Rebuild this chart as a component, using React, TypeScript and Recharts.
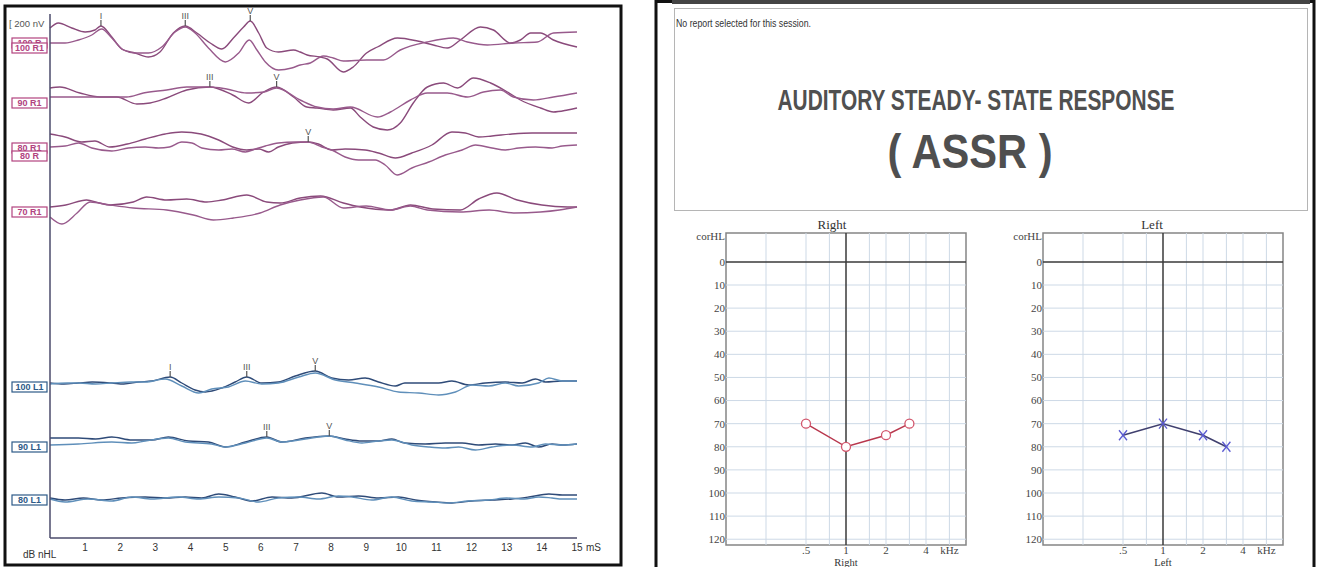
import React from 'react';
import {
  ComposedChart,
  LineChart,
  Line,
  Scatter,
  XAxis,
  YAxis,
  ReferenceLine,
  ReferenceArea,
} from 'recharts';

// ABR waveforms: [latency ms, amplitude] pairs, amplitude relative to the trace baseline (up = positive)
type Pt = [number, number];

const r100a: Pt[] = [[0, 15], [0.24, 20], [0.62, 15], [1.0, 11], [1.28, 13], [1.45, 17], [1.76, 6], [2.04, -6], [2.42, -10], [2.8, -14], [3.13, -9], [3.51, 10], [3.85, 17], [4.18, 10], [4.56, 0], [4.89, -6], [5.22, 5], [5.51, 16], [5.7, 22], [5.94, 10], [6.17, -5], [6.5, -9], [6.93, -7], [7.12, -9], [7.32, -12], [7.69, -14], [7.89, -16], [8.35, -29], [8.63, -24], [9.01, -10], [9.32, -4], [9.89, 5], [10.46, 2], [10.91, -2], [11.31, -5], [11.68, 3], [12.25, 16], [12.62, 13], [13.11, 0], [13.39, 3], [13.68, 10], [13.96, 10], [14.33, 3], [15, -4]];
const r100b: Pt[] = [[0, 0], [0.43, 0], [0.81, 3], [1.19, 8], [1.47, 14], [1.76, 5], [2.09, -7], [2.42, -10], [2.8, -10], [3.18, -4], [3.56, 11], [3.85, 16], [4.13, 10], [4.51, -5], [4.99, -19], [5.37, -10], [5.67, 3], [5.89, -7], [6.13, -19], [6.5, -27], [6.88, -25], [7.12, -22], [7.41, -20], [7.78, -13], [8.06, -15], [8.35, -18], [9.01, -17], [9.49, -17], [9.97, -7], [10.74, 1], [11.48, 5], [11.88, 1], [12.45, -2], [13.19, 0], [13.87, 1], [14.33, 10], [15, 11]];
const r90a: Pt[] = [[0, 9], [0.28, 10], [0.85, 4], [1.42, 0], [1.9, 0], [2.47, -7], [2.85, -6], [3.32, -1], [3.89, 7], [4.55, 10], [5.2, 2], [5.65, -6], [6.08, 5], [6.45, 10], [6.93, 0], [7.31, -10], [7.6, -11], [8.06, -13], [8.55, -11], [8.83, -20], [9.2, -30], [9.6, -33], [9.97, -26], [10.34, -6], [10.74, 10], [11.2, 14], [11.6, 9], [12.05, 19], [12.54, 14], [13.02, 5], [13.39, -3], [13.96, -11], [14.33, -15], [14.73, -13], [15, -11]];
const r90b: Pt[] = [[0, 0], [0.7, 0], [1.42, 0], [2.18, 0], [2.66, 4], [3.32, 7], [3.89, 10], [4.55, 10], [5.03, 8], [5.6, 4], [6.08, 5], [6.45, 9], [7.12, -3], [7.6, -10], [8.06, -12], [8.55, -10], [9.32, -20], [9.69, -15], [10.26, -3], [10.74, 4], [11.31, 4], [11.88, 0], [12.34, 5], [12.82, 7], [13.19, 0], [13.76, -3], [14.33, 0], [15, 4]];
const r80a: Pt[] = [[0, 14], [0.43, 11], [0.9, 6], [1.28, 7], [1.7, 1], [2.2, 4], [2.71, 9], [3.28, 14], [3.75, 16], [4.3, 14], [4.8, 8], [5.2, 1], [5.6, -2], [5.95, -1], [6.22, -4], [6.5, 1], [6.9, 5], [7.35, 6], [7.64, 4], [8.02, -2], [8.4, -1], [8.97, -2], [9.35, -5], [9.83, -10], [10.3, -5], [10.87, 3], [11.44, 16], [11.82, 15], [12.2, 11], [12.58, 12], [13.15, 14], [13.72, 15], [14.58, 15], [15, 15]];
const r80b: Pt[] = [[0, 1], [0.43, 2], [0.81, 5], [1.19, 0], [1.76, -3], [2.23, 0], [2.71, 1], [3.09, 0], [3.4, 1], [3.75, 6], [4.04, 5], [4.32, 0], [4.8, -2], [5.18, -1], [5.56, -4], [5.84, -1], [6.13, 2], [6.5, 5], [6.98, 6], [7.35, 6], [7.74, 1], [8.02, -2], [8.4, -9], [8.78, -12], [9.26, -12], [9.54, -17], [9.88, -27], [10.3, -20], [10.78, -14], [11.25, -7], [11.73, -2], [12.11, 3], [12.58, 0], [12.96, -2], [13.34, 0], [13.82, 1], [14.29, 0], [14.58, 2], [15, 3]];
const r70a: Pt[] = [[0, 0], [0.45, 2], [1.04, 7], [1.4, 4], [1.71, 2], [2.37, 5], [2.75, 10], [3.32, 7], [3.89, 8], [4.46, 5], [4.9, 7], [5.6, 12], [6.17, 5], [6.55, 4], [7.12, 9], [7.7, 11], [8.35, 4], [8.83, 0], [9.69, -3], [10.26, 2], [10.9, -2], [11.68, -3], [12.2, 8], [12.72, 14], [13.3, 7], [14.0, 2], [14.73, 0], [15, 0]];
const r70b: Pt[] = [[0, -10], [0.34, -17], [0.77, -6], [1.14, 5], [1.71, 2], [2.37, -1], [3.32, -3], [4.08, -8], [4.65, -13], [5.22, -11], [5.98, -6], [6.55, 2], [7.12, 7], [7.78, 10], [8.35, -1], [9.0, 1], [9.69, -3], [10.26, 1], [10.74, -3], [11.68, -5], [12.5, -3], [13.2, -6], [13.96, -5], [14.5, -3], [15, 0]];
const l100a: Pt[] = [[0, 0], [0.4, -1], [0.81, 0], [1.2, 1], [1.76, 0], [2.1, -1], [2.52, 1], [2.9, 2], [3.42, 6], [3.75, 0], [4.13, -7], [4.42, -9], [4.89, -5], [5.27, 1], [5.6, 6], [6.03, 0], [6.5, 1], [6.98, 7], [7.55, 12], [8.02, 5], [8.5, 3], [8.97, 5], [9.35, 1], [9.83, -3], [10.1, 0], [10.59, 0], [11.06, 0], [11.44, 2], [11.92, -2], [12.39, 0], [12.96, 1], [13.44, 0], [13.82, 4], [14.1, 1], [14.58, 2], [15, 2]];
const l100b: Pt[] = [[0, -1], [0.5, 0], [0.81, 0], [1.3, -1], [1.76, 0], [2.3, 1], [2.71, 1], [3.28, 4], [3.75, -3], [4.23, -10], [4.6, -6], [5.08, -4], [5.56, 2], [6.03, -1], [6.5, 0], [7.08, 6], [7.55, 10], [8.12, 3], [8.69, 0], [9.35, -4], [9.92, -9], [10.49, -10], [11.06, -12], [11.54, -9], [12.01, -2], [12.49, -3], [12.96, 0], [13.34, -3], [13.91, 0], [14.2, 5], [14.58, 2], [15, 2]];
const l90a: Pt[] = [[0, 5], [0.81, 5], [1.3, 4], [1.76, 6], [2.33, 3], [2.9, 3], [3.37, 6], [3.94, 2], [4.51, 1], [4.99, -4], [5.56, 1], [6.17, 6], [6.6, 1], [7.27, 5], [7.95, 7], [8.4, 4], [8.88, 2], [9.35, 2], [9.73, 4], [10.1, 0], [10.68, -1], [11.25, 0], [11.73, 0], [12.2, -2], [12.68, -1], [13.15, -2], [13.53, 0], [13.91, -4], [14.29, -1], [14.58, -2], [15, -1]];
const l90b: Pt[] = [[0, -2], [0.81, -1], [1.76, 1], [2.33, 0], [2.71, 2], [3.37, 5], [3.85, 1], [4.6, -1], [4.99, -4], [5.56, 0], [6.17, 5], [6.6, 1], [7.27, 4], [7.95, 7], [8.4, 3], [8.88, 0], [9.35, 2], [9.73, 3], [10.3, -2], [10.78, -4], [11.25, -5], [11.63, -4], [12.11, -7], [12.58, -4], [13.15, -2], [13.72, -4], [14.1, -1], [14.58, -2], [15, -1]];
const l80a: Pt[] = [[0, 1], [0.43, -1], [0.95, 1], [1.47, -1], [2.04, 1], [2.71, 2], [3.28, 1], [3.85, 2], [4.32, 1], [4.8, 5], [5.27, 2], [5.75, -2], [6.32, 2], [6.88, 1], [7.74, 6], [8.21, 2], [8.78, 3], [9.35, 1], [9.92, 2], [10.4, -1], [10.97, -3], [11.44, -4], [12.01, -2], [12.58, -1], [13.15, 0], [13.63, 2], [14.2, 5], [14.58, 4], [15, 4]];
const l80b: Pt[] = [[0, 0], [0.43, -3], [1.09, 0], [1.76, -2], [2.33, 2], [2.9, 0], [3.66, 2], [4.23, 0], [4.8, 2], [5.37, 1], [5.94, -3], [6.5, 1], [7.08, 2], [7.64, 0], [8.21, 3], [8.6, 2], [9.16, -1], [9.73, 2], [10.3, -2], [10.87, -3], [11.35, -4], [11.9, -2], [12.5, -1], [13.0, 1], [13.5, 0], [13.91, 2], [14.29, 1], [14.58, 0], [15, 0]];

// wave peaks marked on the traces
const PEAKS = [
  { level: '100R', label: 'I', ms: 1.45, amp: 17 },
  { level: '100R', label: 'III', ms: 3.85, amp: 17 },
  { level: '100R', label: 'V', ms: 5.7, amp: 22 },
  { level: '90R', label: 'III', ms: 4.55, amp: 10 },
  { level: '90R', label: 'V', ms: 6.45, amp: 10 },
  { level: '80R', label: 'V', ms: 7.35, amp: 6 },
  { level: '100L', label: 'I', ms: 3.42, amp: 6 },
  { level: '100L', label: 'III', ms: 5.6, amp: 6 },
  { level: '100L', label: 'V', ms: 7.55, amp: 12 },
  { level: '90L', label: 'III', ms: 6.17, amp: 6 },
  { level: '90L', label: 'V', ms: 7.95, amp: 7 },
];

const MS_TICKS = [1, 2, 3, 4, 5, 6, 7, 8, 9, 10, 11, 12, 13, 14, 15];

// ASSR thresholds
const FREQS = [0.5, 1, 2, 3];
const RIGHT_DB = [70, 80, 75, 70];
const LEFT_DB = [75, 70, 75, 80];
const DB_TICKS = [0, 10, 20, 30, 40, 50, 60, 70, 80, 90, 100, 110, 120];
const KHZ_TICKS = [0.5, 1, 2, 4, 6];
const GRID_FREQS = [0.25, 0.5, 0.75, 1.5, 2, 3, 4, 6];

// stacking of the ABR traces (display units from the bottom of the plot)
const LEVELS = [
  { key: '100R', ear: 'R', offset: 495, boxes: [{ text: '100 R', dy: -5 }, { text: '100 R1', dy: 0 }], traces: [r100a, r100b] },
  { key: '90R', ear: 'R', offset: 441, boxes: [{ text: '90 R1', dy: 1 }], traces: [r90a, r90b] },
  { key: '80R', ear: 'R', offset: 390, boxes: [{ text: '80 R1', dy: -5 }, { text: '80 R', dy: 3 }], traces: [r80a, r80b] },
  { key: '70R', ear: 'R', offset: 331, boxes: [{ text: '70 R1', dy: 0 }], traces: [r70a, r70b] },
  { key: '100L', ear: 'L', offset: 155, boxes: [{ text: '100 L1', dy: -1 }], traces: [l100a, l100b] },
  { key: '90L', ear: 'L', offset: 95, boxes: [{ text: '90 L1', dy: -1 }], traces: [l90a, l90b] },
  { key: '80L', ear: 'L', offset: 39, boxes: [{ text: '80 L1', dy: -4 }], traces: [l80a, l80b] },
];

const SANS = 'Liberation Sans, Arial, sans-serif';
const NARROW = 'Liberation Sans Narrow, Arial Narrow, Liberation Sans, sans-serif';
const SERIF = 'Liberation Serif, Times New Roman, serif';
const RED_TRACE = ['#8a4a7b', '#985a8c'];
const BLUE_TRACE = ['#2f4b78', '#5f8fba'];

const LevelTick = ({ x, y, payload }: any) => {
  const lvl = LEVELS.find((l) => l.offset === payload.value);
  if (!lvl) return null;
  const col = lvl.ear === 'R' ? '#b2437f' : '#2d5a88';
  return (
    <g>
      {lvl.boxes.map((b) => (
        <g key={b.text}>
          <rect x={x - 38} y={y + b.dy} width={35} height={10} fill="#fff" stroke={col} strokeWidth={1.2} />
          <text x={x - 20.5} y={y + b.dy + 8.3} textAnchor="middle" fontSize={9} fontWeight="bold" fill={col} fontFamily={SANS}>
            {b.text}
          </text>
        </g>
      ))}
    </g>
  );
};

const MsTick = ({ x, y, payload }: any) => (
  <g>
    <text x={x} y={y + 13} textAnchor="middle" fontSize={10} fill="#333" fontFamily={SANS}>
      {payload.value}
    </text>
    {payload.value === 15 && (
      <text x={x + 9} y={y + 13} fontSize={10} fill="#333" fontFamily={SANS}>
        mS
      </text>
    )}
  </g>
);

const PeakMark = (p: any) => {
  const { cx, cy, payload } = p;
  return (
    <g>
      <line x1={cx} x2={cx} y1={cy} y2={cy - 6} stroke="#555" strokeWidth={1.2} />
      <text x={cx} y={cy - 7} textAnchor="middle" fontSize={9} fill="#555" fontFamily={SANS}>
        {payload.label}
      </text>
    </g>
  );
};

function AbrChart() {
  const offsets: Record<string, number> = {};
  LEVELS.forEach((l) => (offsets[l.key] = l.offset));
  const peakData = PEAKS.map((p) => ({ x: p.ms, y: offsets[p.level] + p.amp, label: p.label }));
  const axisStroke = { stroke: '#4b4b6b', strokeWidth: 1.5 };

  return (
    <ComposedChart width={620} height={567} margin={{ top: 14, right: 43, bottom: 0, left: 0 }}>
      <XAxis
        type="number"
        dataKey="x"
        domain={[0, 15]}
        ticks={MS_TICKS}
        interval={0}
        height={29}
        axisLine={axisStroke}
        tickLine={false}
        tickSize={0}
        tickMargin={0}
        tick={(p: any) => <MsTick {...p} />}
      />
      <YAxis
        type="number"
        domain={[0, 524]}
        ticks={LEVELS.map((l) => l.offset)}
        interval={0}
        width={50}
        axisLine={axisStroke}
        tickLine={false}
        tickSize={0}
        tickMargin={0}
        tick={(p: any) => <LevelTick {...p} />}
      />
      {LEVELS.map((lvl) =>
        lvl.traces.map((tr, i) => (
          <Line
            key={lvl.key + i}
            data={tr.map(([x, a]) => ({ x, y: lvl.offset + a }))}
            dataKey="y"
            type="monotone"
            stroke={(lvl.ear === 'R' ? RED_TRACE : BLUE_TRACE)[i]}
            strokeWidth={1.4}
            dot={false}
            activeDot={false}
            isAnimationActive={false}
          />
        ))
      )}
      <Scatter data={peakData} dataKey="y" shape={PeakMark} isAnimationActive={false} />
    </ComposedChart>
  );
}

const CircleDot = (p: any) => (
  <circle key={p.index} cx={p.cx} cy={p.cy} r={4.5} fill="#fff" stroke="#d2566c" strokeWidth={1.3} />
);

const CrossDot = (p: any) => (
  <g key={p.index}>
    <line x1={p.cx - 4} y1={p.cy - 5} x2={p.cx + 4} y2={p.cy + 5} stroke="#5a5ad2" strokeWidth={1.3} />
    <line x1={p.cx + 4} y1={p.cy - 5} x2={p.cx - 4} y2={p.cy + 5} stroke="#5a5ad2" strokeWidth={1.3} />
  </g>
);

function Audiogram({ levels, lineColor, dot }: { levels: number[]; lineColor: string; dot: any }) {
  const data = FREQS.map((f, i) => ({ f, db: levels[i] }));
  const tickStyle = { fontSize: 11, fontFamily: SERIF, fill: '#444' };
  return (
    <LineChart width={300} height={355} data={data} margin={{ top: 21, right: 14, bottom: 0, left: 0 }}>
      {GRID_FREQS.map((f) => (
        <ReferenceLine key={'v' + f} x={f} stroke="#cdd9e6" strokeWidth={1} />
      ))}
      {DB_TICKS.filter((d) => d > 0).map((d) => (
        <ReferenceLine key={'h' + d} y={d} stroke="#cdd9e6" strokeWidth={1} />
      ))}
      <ReferenceLine x={1} stroke="#3a3a3a" strokeWidth={1.5} />
      <ReferenceLine y={0} stroke="#3a3a3a" strokeWidth={1.5} />
      <ReferenceArea x1={0.125} x2={8} y1={-12.5} y2={122.5} fill="#fff" fillOpacity={0} stroke="#858585" strokeWidth={1.5} />
      <XAxis
        type="number"
        dataKey="f"
        scale="log"
        domain={[0.125, 8]}
        ticks={KHZ_TICKS}
        interval={0}
        height={22}
        axisLine={false}
        tickLine={false}
        tickSize={0}
        tickMargin={1}
        tick={tickStyle}
        tickFormatter={(v: number) => (v === 6 ? 'kHz' : v === 0.5 ? '.5' : String(v))}
        allowDataOverflow
      />
      <YAxis
        type="number"
        domain={[-12.5, 122.5]}
        reversed
        ticks={[-11, ...DB_TICKS]}
        interval={0}
        width={46}
        axisLine={false}
        tickLine={false}
        tickSize={0}
        tickMargin={1}
        tick={tickStyle}
        tickFormatter={(v: number) => (v < 0 ? 'corHL' : String(v))}
        allowDataOverflow
      />
      <Line dataKey="db" type="linear" stroke={lineColor} strokeWidth={1.5} dot={dot} activeDot={false} isAnimationActive={false} />
    </LineChart>
  );
}

export default function App() {
  return (
    <div style={{ position: 'absolute', left: 0, top: 0, width: 1319, height: 567, background: '#fff', overflow: 'hidden' }}>
      <svg width={1319} height={567} style={{ position: 'absolute', left: 0, top: 0 }}>
        <rect x={5} y={6} width={616} height={559} fill="none" stroke="#111" strokeWidth={3} />
        <rect x={656} y={1.5} width={658} height={580} fill="none" stroke="#111" strokeWidth={3} />
        <line x1={672} x2={1310} y1={2} y2={2} stroke="#444" strokeWidth={4} />
        <rect x={674.5} y={8.5} width={633} height={202} fill="none" stroke="#b5b5b5" strokeWidth={1} />
        <text x={9} y={27} fontSize={9.5} fill="#555" fontFamily={SANS}>[ 200 nV</text>
        <text x={23} y={558} fontSize={10} fill="#333" fontFamily={SANS}>dB nHL</text>
        <text x={676} y={27} fontSize={11} fill="#333" fontFamily={NARROW} textLength={135} lengthAdjust="spacingAndGlyphs">
          No report selected for this session.
        </text>
        <text x={976} y={110} textAnchor="middle" fontSize={30} fontWeight="bold" fill="#505050" fontFamily={NARROW} textLength={397} lengthAdjust="spacingAndGlyphs">
          AUDITORY STEADY- STATE RESPONSE
        </text>
        <text x={970} y={168} textAnchor="middle" fontSize={49} fontWeight="bold" fill="#4f4f4f" fontFamily={NARROW} textLength={165} lengthAdjust="spacingAndGlyphs">
          ( ASSR )
        </text>
        <text x={832} y={229} textAnchor="middle" fontSize={13} fill="#333" fontFamily={SERIF}>Right</text>
        <text x={1152} y={229} textAnchor="middle" fontSize={13} fill="#333" fontFamily={SERIF}>Left</text>
        <text x={846} y={566} textAnchor="middle" fontSize={10.5} fill="#333" fontFamily={SERIF}>Right</text>
        <text x={1163} y={566} textAnchor="middle" fontSize={10.5} fill="#333" fontFamily={SERIF}>Left</text>
      </svg>
      <div style={{ position: 'absolute', left: 0, top: 0 }}>
        <AbrChart />
      </div>
      <div style={{ position: 'absolute', left: 680, top: 212 }}>
        <Audiogram levels={RIGHT_DB} lineColor="#b8374d" dot={CircleDot} />
      </div>
      <div style={{ position: 'absolute', left: 997, top: 212 }}>
        <Audiogram levels={LEFT_DB} lineColor="#3f3f6e" dot={CrossDot} />
      </div>
    </div>
  );
}
